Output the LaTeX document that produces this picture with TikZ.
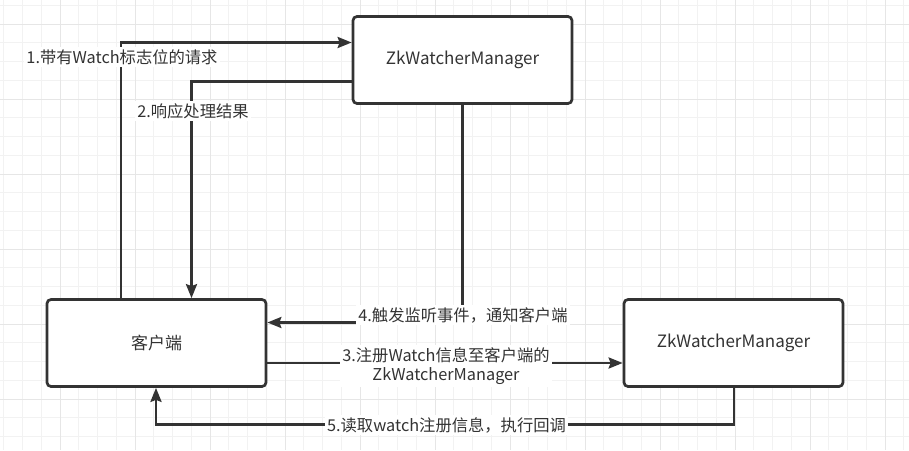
\documentclass[tikz,border=0pt]{standalone}
\usepackage{fontspec}
\setmainfont{Noto Sans CJK SC}
\usetikzlibrary{arrows.meta}
\definecolor{ink}{HTML}{333333}
\definecolor{gridminor}{HTML}{F2F2F2}
\definecolor{gridmajor}{HTML}{E6E6E6}
\tikzset{
  box/.style={draw=ink, line width=2.7pt, rounded corners=4pt, fill=white,
    minimum width=219pt, minimum height=87pt, text=ink,
    font=\fontsize{17}{20}\selectfont},
  conn/.style={draw=ink, line width=2.7pt, -{Stealth[length=14pt,width=11pt,inset=2pt]}},
  lbl/.style={fill=white, text=ink, inner sep=2pt, align=center,
    font=\fontsize{16.3}{19.5}\selectfont}
}
\begin{document}
\begin{tikzpicture}[x=1pt,y=-1pt]
\useasboundingbox (0,0) rectangle (909,450);
\fill[white] (0,0) rectangle (909,450);
% grid
\foreach \i in {0,...,48} {
  \draw[gridminor, line width=1pt] ({3.75+18.75*\i},0) -- ({3.75+18.75*\i},450);
}
\foreach \i in {0,...,23} {
  \draw[gridminor, line width=1pt] (0,{5.25+18.75*\i}) -- (909,{5.25+18.75*\i});
}
\foreach \i in {0,...,12} {
  \draw[gridmajor, line width=1pt] ({-15+75*\i},0) -- ({-15+75*\i},450);
}
\foreach \i in {0,...,5} {
  \draw[gridmajor, line width=1pt] (0,{24+75*\i}) -- (909,{24+75*\i});
}
% boxes
\node[box] (top) at (462.5,60) {ZkWatcherManager};
\node[box] (client) at (156.5,343) {客户端};
\node[box] (right) at (733.5,343) {ZkWatcherManager};
% coordinates
\coordinate (c1) at (121,42.5);
\coordinate (c2) at (191.5,81.5);
\coordinate (c4) at (462.5,322.5);
\coordinate (c3) at (0,363);
\coordinate (c5) at (734,424.5);
\coordinate (c5b) at (156,424.5);
% connectors
\draw[conn] (client.north -| c1) -- (c1) -- (top.west |- c1);
\draw[conn] (top.west |- c2) -- (c2) -- (client.north -| c2);
\draw[conn] (top.south -| c4) -- (c4) -- (client.east |- c4);
\draw[conn] (client.east |- c3) -- (right.west |- c3);
\draw[conn] (right.south -| c5) -- (c5) -- (c5b) -- (client.south -| c5b);
% labels
\node[lbl] (l1) at (122,57) {1.带有Watch标志位的请求};
\node[lbl] (l2) at (193,111) {2.响应处理结果};
\node[lbl] (l3) at (446,366) {3.注册Watch信息至客户端的\\ZkWatcherManager};
\node[lbl] (l4) at (463,315) {4.触发监听事件，通知客户端};
\node[lbl] (l5) at (446.5,425) {5.读取watch注册信息，执行回调};
\end{tikzpicture}
\end{document}
